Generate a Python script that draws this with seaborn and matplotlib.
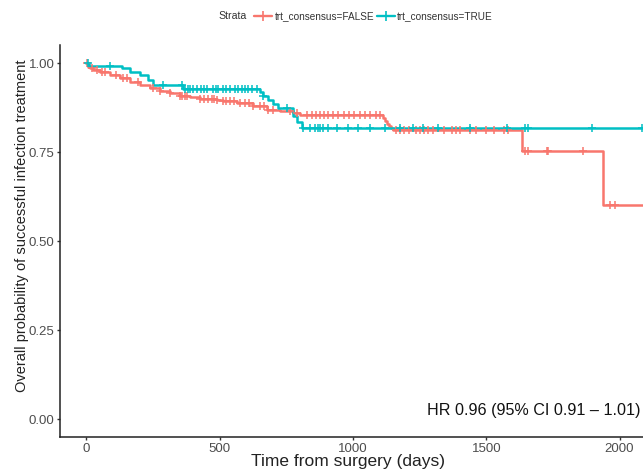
import numpy as np
import pandas as pd
import matplotlib
matplotlib.use("Agg")
import matplotlib.pyplot as plt
from matplotlib.lines import Line2D
import seaborn as sns

# ---- data ----
strata = ["trt_consensus=FALSE", "trt_consensus=TRUE"]

t_false = [0, 5, 13, 26, 51, 88, 126, 163, 201, 238, 276, 313, 351, 388, 426, 489, 512,
           564, 625, 676, 726, 775, 801, 1113, 1120, 1128, 1135, 1143, 1150, 1634, 1937]
s_false = [1.0, 0.99, 0.985, 0.98, 0.975, 0.966, 0.957, 0.948, 0.938, 0.929, 0.922, 0.915,
           0.908, 0.904, 0.900, 0.896, 0.892, 0.887, 0.878, 0.868, 0.864, 0.859, 0.854,
           0.846, 0.838, 0.830, 0.824, 0.818, 0.812, 0.754, 0.602]

t_true = [0, 10, 132, 163, 201, 232, 251, 363, 651, 663, 680, 700, 718, 775, 788, 807]
s_true = [1.0, 0.993, 0.985, 0.976, 0.966, 0.952, 0.938, 0.927, 0.918, 0.908, 0.896,
          0.884, 0.874, 0.852, 0.834, 0.817]

end_time = 2090

cens_false = [3, 20, 40, 60, 69, 110, 138, 152, 193, 250, 276, 313, 351, 360, 368, 377,
              426, 440, 455, 470, 480, 489, 512, 525, 540, 555, 576, 594, 610, 625, 651,
              665, 680, 701, 764, 789, 827, 845, 860, 875, 890, 905, 925, 945, 965, 985,
              1005, 1026, 1045, 1065, 1085, 1100, 1160, 1175, 1190, 1210, 1235, 1250, 1265,
              1280, 1300, 1340, 1370, 1385, 1400, 1440, 1460, 1500, 1530, 1565, 1580, 1645,
              1657, 1728, 1732, 1864, 1965, 1983]
cens_true = [5, 88, 288, 358, 370, 382, 390, 398, 415, 428, 440, 452, 475, 485, 494, 512,
             522, 538, 557, 568, 583, 594, 605, 620, 640, 663, 752, 812, 838, 857, 868, 876,
             887, 906, 940, 981, 1019, 1063, 1120, 1176, 1225, 1263, 1319, 1439, 1578, 1645,
             1657, 1897, 2085]

hr_text = "HR 0.96 (95% CI 0.91 \u2013 1.01)"
x_ticks = [0, 500, 1000, 1500, 2000]
y_ticks = [0.0, 0.25, 0.5, 0.75, 1.0]
colors = {"trt_consensus=FALSE": "#F8766D", "trt_consensus=TRUE": "#00BFC4"}

# ---- build tables ----
def steps_df(t, s, name):
    tt = list(t) + [end_time]
    ss = list(s) + [s[-1]]
    return pd.DataFrame({"time": tt, "surv": ss, "strata": name})

def cens_df(t, s, c, name):
    t = np.asarray(t); s = np.asarray(s); c = np.asarray(c)
    idx = np.searchsorted(t, c, side="right") - 1
    return pd.DataFrame({"time": c, "surv": s[idx], "strata": name})

lines = pd.concat([steps_df(t_false, s_false, strata[0]),
                   steps_df(t_true, s_true, strata[1])], ignore_index=True)
cens = pd.concat([cens_df(t_false, s_false, cens_false, strata[0]),
                  cens_df(t_true, s_true, cens_true, strata[1])], ignore_index=True)

# ---- plot ----
sns.set_style("ticks")
plt.rcParams["font.family"] = ["Liberation Sans", "DejaVu Sans"]

fig = plt.figure(figsize=(6.43, 4.72), dpi=100)
ax = fig.add_axes([60 / 643, 35 / 472, 1 - 60 / 643, (437 - 45.2) / 472])

sns.lineplot(data=lines, x="time", y="surv", hue="strata", palette=colors,
             hue_order=strata, drawstyle="steps-post", estimator=None,
             linewidth=1.8, legend=False, ax=ax)
for name in strata:
    sub = cens[cens.strata == name]
    sns.scatterplot(data=sub, x="time", y="surv", color=colors[name], marker="+",
                    s=32, linewidth=1.1, legend=False, ax=ax, zorder=3)

ax.set_xlim(-99.4, 2088)
ax.set_ylim(-0.05, 1.05)
ax.set_xticks(x_ticks)
ax.set_xticklabels([str(v) for v in x_ticks])
ax.set_yticks(y_ticks)
ax.set_yticklabels([f"{v:.2f}" for v in y_ticks])
ax.tick_params(axis="both", labelsize=9.5, colors="#333333", length=2.5, width=1.0,
               labelcolor="#4d4d4d", pad=1.5)
for sp in ["top", "right"]:
    ax.spines[sp].set_visible(False)
for sp in ["left", "bottom"]:
    ax.spines[sp].set_color("#222222")
    ax.spines[sp].set_linewidth(1.1)

ax.set_xlabel("Time from surgery (days)", fontsize=12.5, color="#222222")
ax.xaxis.set_label_coords((348 - 60) / 583, (437 - 462) / 392)
ax.xaxis.label.set_va("center")
ax.set_ylabel("Overall probability of successful infection treatment", fontsize=10.5,
              color="#222222")
ax.yaxis.set_label_coords((22 - 60) / 583, (437 - 226) / 392)
ax.yaxis.label.set_va("center")

ax.text(0.995, (437 - 410) / 392, hr_text, transform=ax.transAxes, ha="right",
        va="center", fontsize=11.6, color="#111111")

# legend on top
fig.text(218 / 643, 1 - 16 / 472, "Strata", ha="left", va="center", fontsize=7.6,
         color="#333333")
handles = [Line2D([0], [0], color=colors[n], lw=1.7, marker="+", markersize=7,
                  markeredgewidth=1.2) for n in strata]
fig.legend(handles, strata, ncol=2, loc="center left",
           bbox_to_anchor=(245 / 643, 1 - 16 / 472), frameon=False, fontsize=7.2,
           handlelength=1.8, handletextpad=0.25, columnspacing=0.25,
           labelcolor="#333333")

fig.savefig("out.png", dpi=100)
